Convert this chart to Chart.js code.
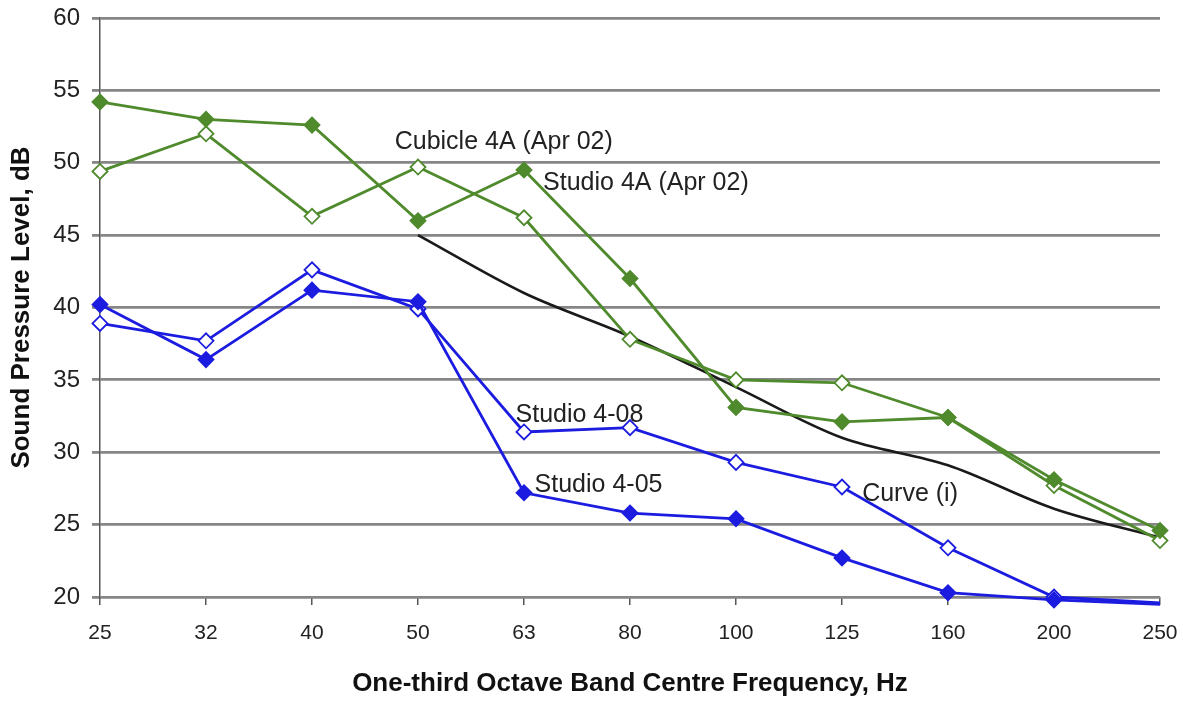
<!DOCTYPE html>
<html>
<head>
<meta charset="utf-8">
<script src="https://cdn.jsdelivr.net/npm/chart.js@4.4.1/dist/chart.umd.min.js"></script>
<style>
  html, body { margin: 0; padding: 0; background: #fff; }
  #wrap { width: 1183px; height: 701px; }
</style>
</head>
<body>
<div id="wrap"><canvas id="spl-chart" width="1183" height="701"></canvas></div>
<script>
// one-third octave band centre frequencies (Hz)
const bands = ['25', '32', '40', '50', '63', '80', '100', '125', '160', '200', '250'];

// measured levels, dB
const studio4A   = [54.2, 53.0, 52.6, 46.0, 49.5, 42.0, 33.1, 32.1, 32.4, 28.1, 24.6];
const cubicle4A  = [49.4, 52.0, 46.3, 49.7, 46.2, 37.8, 35.0, 34.8, 32.4, 27.7, 23.9];
const studio408  = [38.9, 37.7, 42.6, 39.9, 31.4, 31.7, 29.3, 27.6, 23.4, 20.0, 19.6];
const studio405  = [40.2, 36.4, 41.2, 40.4, 27.2, 25.8, 25.4, 22.7, 20.3, 19.8, 19.5];
// criterion curve (i), starts at 50 Hz
const curveI     = [null, null, null, 45.0, 41.0, 38.0, 34.5, 31.0, 29.1, 26.1, 24.1];

const yTicks = [20, 25, 30, 35, 40, 45, 50, 55, 60];

const green = '#4f8a2c';
const blue = '#1c1ce0';
const FONT = '"Liberation Sans", Arial, sans-serif';

// in-plot series labels, anchored to band index / level
const seriesLabels = [
    { text: 'Cubicle 4A (Apr 02)', band: 2.78, level: 51.4 },
    { text: 'Studio 4A (Apr 02)', band: 4.18, level: 48.6 },
    { text: 'Studio 4-08', band: 3.92, level: 32.6 },
    { text: 'Studio 4-05', band: 4.10, level: 27.7 },
    { text: 'Curve (i)', band: 7.19, level: 27.1 }
];

const labelPlugin = {
    id: 'seriesLabels',
    afterDatasetsDraw(chart) {
        const ctx = chart.ctx;
        const xs = chart.scales.x;
        const ys = chart.scales.y;
        ctx.save();
        ctx.font = '25px ' + FONT;
        ctx.fillStyle = '#222';
        ctx.textAlign = 'left';
        ctx.textBaseline = 'middle';
        for (const l of seriesLabels) {
            ctx.fillText(l.text, xs.getPixelForValue(l.band), ys.getPixelForValue(l.level));
        }
        ctx.restore();
    }
};

// the last band sits below the axis floor, so no marker there
const lastHidden = bands.map((b, i) => i === bands.length - 1 ? 0 : 7.5);

function series(label, data, color, filled, radius) {
    return {
        label: label,
        data: data,
        borderColor: color,
        borderWidth: 2.8,
        pointStyle: 'rectRot',
        pointRadius: radius || 7.5,
        pointBorderWidth: 1.8,
        pointBorderColor: color,
        pointBackgroundColor: filled ? color : '#fff',
        tension: 0,
        clip: false
    };
}

new Chart(document.getElementById('spl-chart'), {
    type: 'line',
    data: {
        labels: bands,
        datasets: [
            series('Studio 4-05', studio405, blue, true, lastHidden),
            series('Studio 4-08', studio408, blue, false, lastHidden),
            series('Studio 4A (Apr 02)', studio4A, green, true),
            series('Cubicle 4A (Apr 02)', cubicle4A, green, false),
            {
                label: 'Curve (i)',
                data: curveI,
                borderColor: '#1a1a1a',
                borderWidth: 2.6,
                pointRadius: 0,
                cubicInterpolationMode: 'monotone'
            }
        ]
    },
    options: {
        responsive: false,
        animation: false,
        layout: { padding: { top: 18, right: 23, left: 0, bottom: 0 } },
        plugins: {
            legend: { display: false },
            tooltip: { enabled: false }
        },
        scales: {
            x: {
                offset: false,
                afterFit: s => {
                    s.height = 104;
                    s.paddingLeft = 0;
                    s.paddingRight = 0;
                },
                grid: {
                    drawOnChartArea: false,
                    drawTicks: true,
                    tickLength: 8,
                    color: '#555',
                    lineWidth: 1.5
                },
                border: { display: false },
                ticks: {
                    color: '#222',
                    padding: 16,
                    maxRotation: 0,
                    autoSkip: false,
                    font: { family: FONT, size: 21 }
                },
                title: {
                    display: true,
                    text: 'One-third Octave Band Centre Frequency, Hz',
                    color: '#111',
                    padding: { top: 0, bottom: 2 },
                    font: { family: FONT, size: 26, weight: 'bold' }
                }
            },
            y: {
                min: 20,
                max: 60,
                afterFit: s => {
                    s.width = 100;
                    s.paddingTop = 0;
                    s.paddingBottom = 0;
                },
                afterBuildTicks: s => { s.ticks = yTicks.map(v => ({ value: v })); },
                grid: {
                    color: '#868686',
                    lineWidth: 2.8,
                    tickLength: 8
                },
                border: { display: true, color: '#555', width: 1.5 },
                ticks: {
                    color: '#222',
                    padding: 12,
                    font: { family: FONT, size: 24 }
                },
                title: {
                    display: true,
                    text: 'Sound Pressure Level, dB',
                    color: '#111',
                    padding: { top: 6, bottom: 6 },
                    font: { family: FONT, size: 26, weight: 'bold' }
                }
            }
        }
    },
    plugins: [labelPlugin]
});
</script>
</body>
</html>
